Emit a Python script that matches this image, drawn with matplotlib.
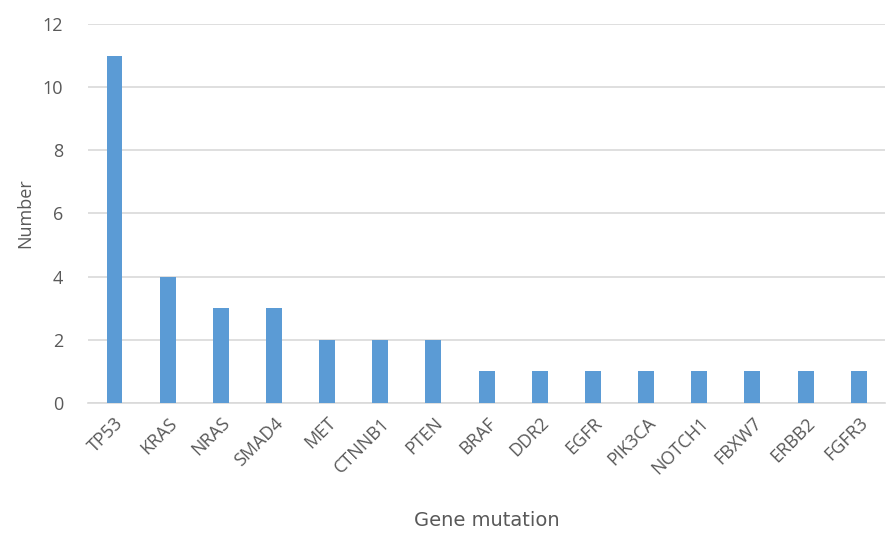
import matplotlib.pyplot as plt
import numpy as np

plt.rcParams['font.family'] = ['Open Sans', 'DejaVu Sans']

genes = ['TP53', 'KRAS', 'NRAS', 'SMAD4', 'MET', 'CTNNB1', 'PTEN', 'BRAF',
         'DDR2', 'EGFR', 'PIK3CA', 'NOTCH1', 'FBXW7', 'ERBB2', 'FGFR3']
counts = [11, 4, 3, 3, 2, 2, 2, 1, 1, 1, 1, 1, 1, 1, 1]

fig = plt.figure(figsize=(8.88, 5.33), dpi=100)
ax = fig.add_axes([0.099, 0.244, 0.898, 0.711])

x = np.arange(len(genes))
ax.bar(x, counts, width=0.3, color='#5B9BD5', zorder=3)

ax.set_xlim(-0.5, len(genes) - 0.5)
ax.set_ylim(0, 12)
ax.set_yticks(range(0, 13, 2))
ax.yaxis.grid(True, color='#D9D9D9', linewidth=1.2, zorder=0)
ax.set_axisbelow(True)

for side in ['top', 'right', 'left']:
    ax.spines[side].set_visible(False)
ax.spines['bottom'].set_color('#D9D9D9')
ax.spines['bottom'].set_linewidth(1.2)
ax.tick_params(length=0, colors='#595959', labelsize=13)
ax.tick_params(axis='y', pad=18)

ax.set_xticks(x)
ax.set_xticklabels(genes, rotation=45, ha='right', rotation_mode='anchor')
ax.tick_params(axis='x', pad=8)

ax.set_xlabel('Gene mutation', color='#595959', fontsize=14,
              family='DejaVu Sans', labelpad=24)
ax.set_ylabel('Number', color='#595959', fontsize=13, labelpad=6)

fig.savefig('out.png', dpi=100)
